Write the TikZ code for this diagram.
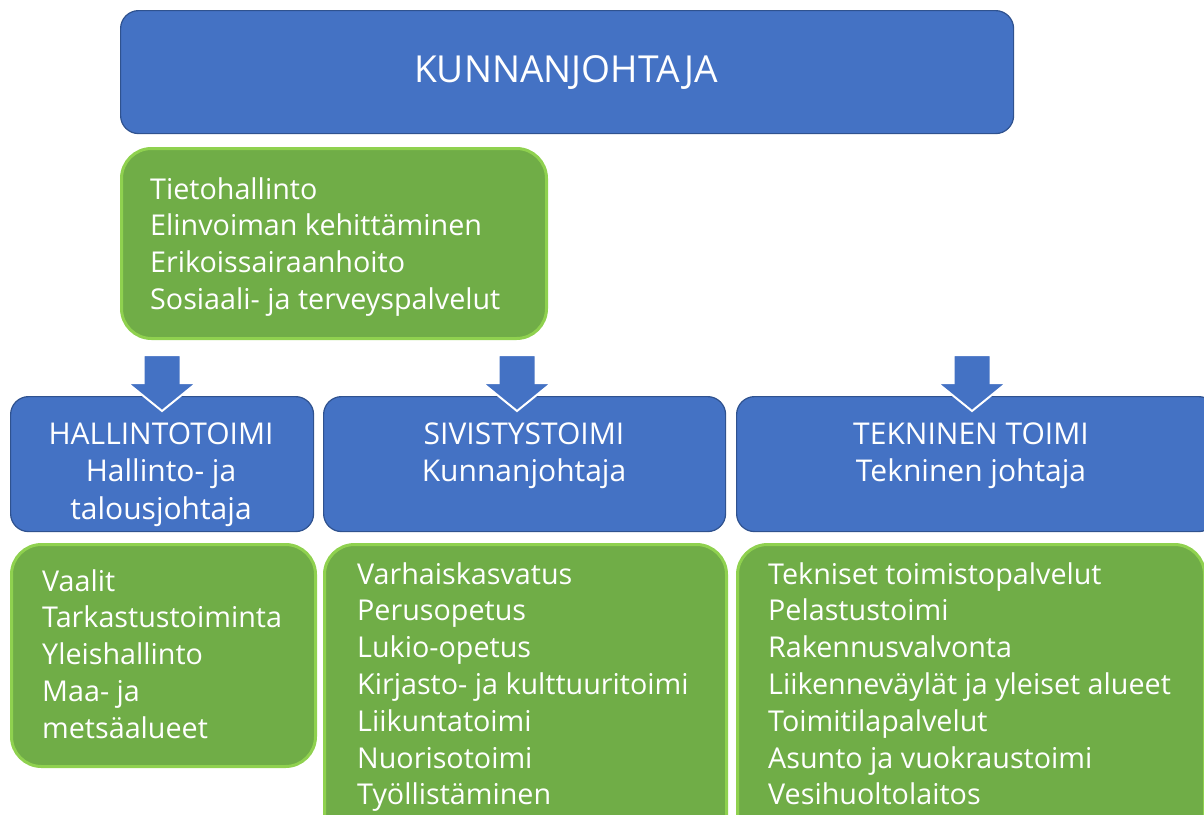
\documentclass[tikz,border=0pt]{standalone}
\usepackage{fontspec}
\setmainfont{Open Sans}
\definecolor{boxblue}{HTML}{4472C4}
\definecolor{blueline}{HTML}{2F528F}
\definecolor{boxgreen}{HTML}{70AD47}
\definecolor{greenline}{HTML}{8FD14F}
\tikzset{
  bluebox/.style={draw=blueline, line width=1.2pt, fill=boxblue, rounded corners=18pt, anchor=north west, inner sep=0pt},
  greenbox/.style={draw=greenline, line width=3pt, fill=boxgreen, rounded corners=30pt, anchor=north west, inner sep=0pt},
  listtext/.style={text=white, align=left, inner sep=0pt, anchor=north west, font=\fontsize{28.7}{36.8}\selectfont},
  headtext/.style={text=white, align=center, inner sep=0pt, font=\fontsize{30}{37.5}\selectfont},
  blockarrow/.style={fill=boxblue, draw=white, line width=2pt, line join=miter}
}
\newcommand\downarrowat[2]{%
  \draw[blockarrow] (#1-18.5,355) -- (#1+18.5,355) -- (#1+18.5,383) -- (#1+34.5,383)
    -- (#1,411) -- (#1-34.5,383) -- (#1-18.5,383) -- cycle;
  \coordinate (#2) at (#1,411);}
\begin{document}
\begin{tikzpicture}[x=1pt,y=-1pt]
\useasboundingbox (0,0) rectangle (1204,814);
\clip (0,0) rectangle (1204,814);
% top
\node[bluebox, minimum width=893pt, minimum height=123pt] (top) at (120,10) {};
\node[text=white, inner sep=0pt, font=\fontsize{37.2}{40}\selectfont] (toptext) at (566,73) {KUNNANJOHTAJA};
% green under top
\node[greenbox, minimum width=425pt, minimum height=190pt] (gtop) at (120,147) {};
\node[listtext] (gtoptext) at (150,177) {Tietohallinto\\Elinvoiman kehittäminen\\Erikoissairaanhoito\\Sosiaali- ja terveyspalvelut};
% blue row
\node[bluebox, minimum width=303pt, minimum height=135pt] (hal) at (10,396) {};
\node[bluebox, minimum width=402pt, minimum height=135pt] (siv) at (323,396) {};
\node[bluebox, minimum width=480pt, minimum height=135pt] (tek) at (736,396) {};
% arrows
\downarrowat{162}{a1}
\downarrowat{517}{a2}
\downarrowat{972}{a3}
\node[headtext, anchor=north] (haltext) at (161,422.5) {HALLINTOTOIMI\\Hallinto- ja\\talousjohtaja};
\node[headtext, anchor=north] (sivtext) at (524,422.5) {SIVISTYSTOIMI\\Kunnanjohtaja};
\node[headtext, anchor=north] (tektext) at (971,422.5) {TEKNINEN TOIMI\\Tekninen johtaja};
% green bottom
\node[greenbox, minimum width=304pt, minimum height=222pt] (ghal) at (10,543) {};
\node[greenbox, minimum width=402pt, minimum height=300pt] (gsiv) at (323,543) {};
\node[greenbox, minimum width=467pt, minimum height=300pt] (gtek) at (736,543) {};
\node[listtext] (ghaltext) at (42,569) {Vaalit\\Tarkastustoiminta\\Yleishallinto\\Maa- ja\\metsäalueet};
\node[listtext] (gsivtext) at (357,562) {Varhaiskasvatus\\Perusopetus\\Lukio-opetus\\Kirjasto- ja kulttuuritoimi\\Liikuntatoimi\\Nuorisotoimi\\Työllistäminen};
\node[listtext] (gtektext) at (768,562) {Tekniset toimistopalvelut\\Pelastustoimi\\Rakennusvalvonta\\Liikenneväylät ja yleiset alueet\\Toimitilapalvelut\\Asunto ja vuokraustoimi\\Vesihuoltolaitos};
\end{tikzpicture}
\end{document}
